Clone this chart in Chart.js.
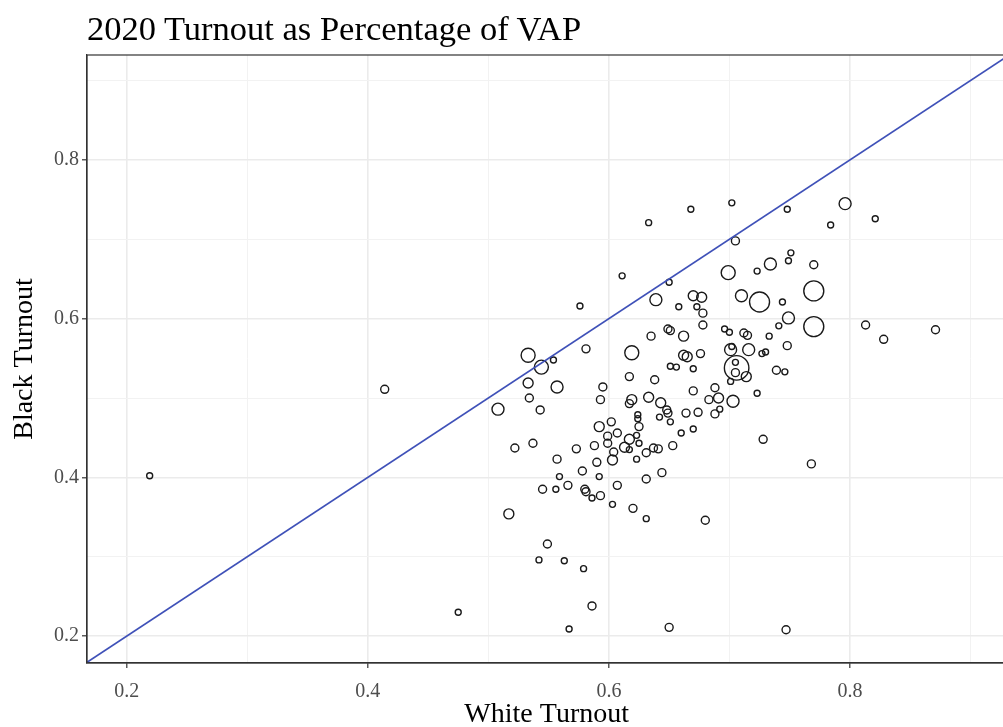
<!DOCTYPE html>
<html>
<head>
<meta charset="utf-8">
<script src="https://cdn.jsdelivr.net/npm/chart.js"></script>
<style>
    body { margin: 0; overflow: hidden; background: #fff; }
    #wrap { position: relative; width: 1020px; height: 727px; }
    #chartTitle {
        position: absolute; left: 87px; top: 11px;
        font-family: 'Liberation Serif', serif; font-size: 34.5px; line-height: 1; color: #000;
    }
</style>
</head>
<body>
<div id="wrap">
    <div id="chartTitle">2020 Turnout as Percentage of VAP</div>
    <canvas id="turnoutChart" width="1020" height="727"></canvas>
</div>
<script>
// turnout by area
const whiteTurnout = [0.219, 0.414, 0.475, 0.508, 0.517, 0.522, 0.533, 0.544, 0.554, 0.533,
    0.534, 0.537, 0.543, 0.557, 0.549, 0.542, 0.563, 0.579, 0.586, 0.567,
    0.650, 0.747, 0.680, 0.768, 0.728, 0.545, 0.556, 0.566, 0.580, 0.581,
    0.586, 0.593, 0.607, 0.603, 0.620, 0.631, 0.631, 0.557, 0.559, 0.578,
    0.590, 0.592, 0.603, 0.623, 0.644, 0.573, 0.588, 0.599, 0.604, 0.613,
    0.617, 0.625, 0.617, 0.623, 0.599, 0.607, 0.631, 0.637, 0.641, 0.653,
    0.660, 0.670, 0.592, 0.602, 0.624, 0.624, 0.625, 0.642, 0.651, 0.648,
    0.649, 0.643, 0.633, 0.619, 0.617, 0.593, 0.595, 0.617, 0.638, 0.651,
    0.656, 0.662, 0.665, 0.619, 0.581, 0.635, 0.662, 0.649, 0.651, 0.639,
    0.658, 0.650, 0.611, 0.576, 0.633, 0.668, 0.702, 0.748, 0.796, 0.784,
    0.821, 0.705, 0.751, 0.749, 0.734, 0.723, 0.699, 0.770, 0.670, 0.677,
    0.673, 0.678, 0.710, 0.725, 0.744, 0.770, 0.749, 0.741, 0.770, 0.678,
    0.696, 0.700, 0.712, 0.715, 0.733, 0.748, 0.701, 0.702, 0.716, 0.727,
    0.730, 0.676, 0.670, 0.706, 0.705, 0.705, 0.714, 0.701, 0.739, 0.746,
    0.670, 0.688, 0.691, 0.683, 0.703, 0.723, 0.664, 0.674, 0.688, 0.692,
    0.813, 0.828, 0.871];

const blackTurnout = [0.402, 0.511, 0.230, 0.486, 0.354, 0.437, 0.554, 0.539, 0.548, 0.519,
    0.500, 0.443, 0.485, 0.514, 0.316, 0.296, 0.295, 0.285, 0.238, 0.209,
    0.211, 0.208, 0.346, 0.417, 0.448, 0.385, 0.385, 0.390, 0.385, 0.382,
    0.374, 0.377, 0.390, 0.366, 0.361, 0.348, 0.398, 0.423, 0.401, 0.408,
    0.419, 0.401, 0.422, 0.423, 0.406, 0.436, 0.440, 0.443, 0.432, 0.438,
    0.435, 0.443, 0.448, 0.453, 0.452, 0.456, 0.431, 0.437, 0.436, 0.440,
    0.456, 0.461, 0.464, 0.470, 0.479, 0.474, 0.464, 0.476, 0.470, 0.485,
    0.481, 0.494, 0.501, 0.498, 0.493, 0.498, 0.514, 0.527, 0.523, 0.540,
    0.539, 0.554, 0.552, 0.557, 0.562, 0.578, 0.578, 0.587, 0.585, 0.624,
    0.615, 0.646, 0.654, 0.616, 0.721, 0.738, 0.746, 0.738, 0.745, 0.718,
    0.726, 0.698, 0.683, 0.673, 0.669, 0.660, 0.658, 0.668, 0.629, 0.627,
    0.615, 0.607, 0.629, 0.621, 0.621, 0.635, 0.601, 0.591, 0.590, 0.592,
    0.587, 0.583, 0.582, 0.579, 0.578, 0.566, 0.561, 0.565, 0.561, 0.556,
    0.558, 0.556, 0.537, 0.538, 0.545, 0.532, 0.527, 0.521, 0.535, 0.533,
    0.509, 0.513, 0.500, 0.498, 0.496, 0.506, 0.481, 0.482, 0.480, 0.486,
    0.592, 0.574, 0.586];

// relative size of each area (point area)
const popWeight = [9, 16, 9, 36, 25, 16, 49, 49, 9, 25,
    16, 16, 16, 36, 16, 9, 9, 9, 16, 9,
    16, 16, 16, 16, 16, 16, 9, 16, 16, 16,
    9, 16, 16, 9, 16, 9, 16, 16, 9, 16,
    16, 9, 25, 9, 16, 16, 16, 16, 16, 25,
    9, 9, 25, 9, 16, 16, 16, 16, 16, 16,
    9, 9, 25, 16, 9, 9, 16, 9, 9, 16,
    16, 25, 25, 25, 16, 16, 16, 16, 16, 9,
    9, 25, 25, 49, 16, 16, 25, 16, 16, 36,
    9, 9, 9, 9, 9, 9, 9, 9, 36, 9,
    9, 16, 9, 9, 36, 9, 49, 16, 25, 25,
    9, 16, 36, 100, 9, 100, 36, 9, 100, 16,
    9, 9, 16, 16, 9, 16, 36, 9, 36, 9,
    9, 16, 9, 150, 9, 16, 25, 9, 16, 9,
    16, 16, 25, 16, 36, 9, 16, 16, 16, 9,
    16, 16, 16];

// axis ranges and the equal turnout reference line
const xMin = 0.167;
const xVisibleMax = 0.927; // x value at the right edge of the window
const yRange = [0.1661, 0.9323];
const equalLine = [0.1, 1.0];

const pageWidth = 1003;
const serif = "'Liberation Serif', 'Times New Roman', serif";

function isMajor(v) {
    return Math.round(v * 10) % 2 === 0;
}

// panel border like ggplot theme_bw
const panelBorder = {
    id: 'panelBorder',
    afterDraw(chart) {
        const a = chart.chartArea;
        const ctx = chart.ctx;
        ctx.save();
        ctx.strokeStyle = '#333333';
        ctx.lineWidth = 1.2;
        ctx.strokeRect(a.left, a.top, a.right - a.left, a.bottom - a.top);
        ctx.restore();
    }
};

function axisOptions(min, max, titleText, titlePadding, tickPadding, fit) {
    return {
        type: 'linear',
        min: min,
        max: max,
        afterFit: fit,
        title: {
            display: true,
            text: titleText,
            color: '#000',
            font: { family: serif, size: 28 },
            padding: titlePadding
        },
        ticks: {
            stepSize: 0.1,
            includeBounds: false,
            autoSkip: false,
            maxRotation: 0,
            color: '#4d4d4d',
            font: { family: serif, size: 20 },
            padding: tickPadding,
            callback: function (value) {
                return isMajor(value) ? value.toFixed(1) : '';
            }
        },
        grid: {
            color: function (c) {
                return c.tick && isMajor(c.tick.value) ? '#ebebeb' : '#f2f2f2';
            },
            lineWidth: function (c) {
                return c.tick && isMajor(c.tick.value) ? 1.6 : 1;
            },
            tickColor: function (c) {
                return c.tick && isMajor(c.tick.value) ? '#333333' : 'rgba(0,0,0,0)';
            },
            tickLength: 5,
            tickWidth: 1.2
        },
        border: { display: true, color: '#333333', width: 1.2 }
    };
}

const bubbleData = whiteTurnout.map(function (x, i) {
    return { x: x, y: blackTurnout[i], r: Math.sqrt(popWeight[i]) };
});

const lineData = equalLine.map(function (v) {
    return { x: v, y: v };
});

const turnoutChart = new Chart(document.getElementById('turnoutChart'), {
    type: 'bubble',
    data: {
        datasets: [
            {
                type: 'line',
                label: 'Equal turnout',
                data: lineData,
                borderColor: '#3f51b8',
                borderWidth: 1.7,
                pointRadius: 0,
                order: 0
            },
            {
                label: 'Areas',
                data: bubbleData,
                backgroundColor: 'rgba(0,0,0,0)',
                borderColor: '#1a1a1a',
                borderWidth: 1.4,
                order: 1
            }
        ]
    },
    options: {
        responsive: false,
        animation: false,
        layout: { padding: { top: 55, left: 0, right: 0, bottom: 0 } },
        plugins: {
            legend: { display: false },
            tooltip: { enabled: false }
        },
        scales: {
            x: axisOptions(xMin, 0.94, 'White Turnout', { top: 0, bottom: -4 }, 12, function (s) {
                s.height = 64;
            }),
            y: axisOptions(yRange[0], yRange[1], 'Black Turnout', { top: 8, bottom: 0 }, 3, function (s) {
                s.width = 87;
            })
        }
    },
    plugins: [panelBorder]
});

// the panel runs past the window edge, so stretch the x range to match the visible part
const area = turnoutChart.chartArea;
turnoutChart.options.scales.x.max = xMin + (xVisibleMax - xMin) * (area.right - area.left) / (pageWidth - area.left);
turnoutChart.update();
</script>
</body>
</html>
